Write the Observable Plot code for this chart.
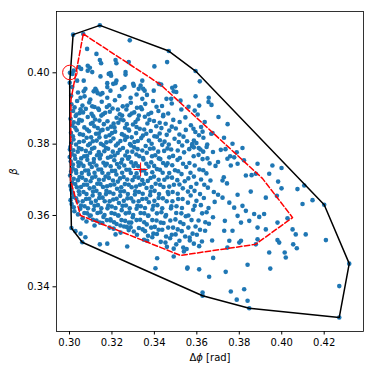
<!DOCTYPE html>
<html>
<head>
<meta charset="utf-8">
<script src="https://cdn.jsdelivr.net/npm/d3@7"></script>
<script src="https://cdn.jsdelivr.net/npm/@observablehq/plot@0.6"></script>
<style>
  html, body { margin: 0; padding: 0; background: white; }
  #chart { width: 374px; height: 374px; }
</style>
</head>
<body>
<div id="chart"></div>
<script>
// Samples (Δϕ [rad], β)
const samplesOuter = [
// top region
[0.3017,0.4107],[0.3143,0.4133],[0.3065,0.4109],[0.3284,0.4091],[0.3083,0.4067],[0.3127,0.4053],[0.3143,0.4036],[0.3149,0.4027],[0.3217,0.4036],[0.3221,0.4027],[0.3279,0.4030],[0.3086,0.4020],[0.3096,0.4014],[0.3044,0.4016],[0.3055,0.4011],[0.3020,0.4006],[0.3014,0.3997],[0.3107,0.4002],[0.3185,0.3997],[0.3196,0.3992],[0.3264,0.3995],[0.3067,0.3978],[0.3178,0.3971],[0.3206,0.3969],[0.3217,0.3971],[0.3300,0.3969],[0.3248,0.3955],[0.3259,0.3960],[0.3075,0.3955],[0.3067,0.3948],[0.3114,0.3948],[0.3127,0.3950],[0.3133,0.3943],[0.3146,0.3939],[0.3155,0.3943],[0.3193,0.3950],[0.3326,0.3955],[0.3316,0.3939],[0.3052,0.3930],[0.3071,0.3934],[0.3178,0.3930],[0.3288,0.3930],
[0.3086,0.4006],[0.3146,0.3990],[0.3193,0.3999],[0.3221,0.3978],[0.3264,0.4002],[0.3303,0.3964],[0.3178,0.3960],[0.3122,0.3955],[0.3343,0.3978],[0.3397,0.3950],[0.3484,0.3958],[0.3523,0.3922],[0.3036,0.3978],[0.3013,0.3960],[0.3008,0.3936],[0.3040,0.3945],[0.3098,0.3925],[0.3235,0.3935],[0.3365,0.3938],
[0.3002,0.4000],[0.3002,0.3785],[0.3001,0.3972],
[0.3468,0.4061],[0.3400,0.4018],[0.3460,0.4030],[0.3594,0.4005],[0.3614,0.3976],[0.3335,0.3964],[0.3347,0.3955],[0.3354,0.3950],[0.3421,0.3969],[0.3432,0.3967],[0.3498,0.3962],[0.3491,0.3948],[0.3503,0.3946],[0.3594,0.3934],[0.3656,0.3930],[0.3457,0.3927],[0.3479,0.3927],[0.3343,0.3927],
[0.3611,0.3908],[0.3590,0.3894],[0.3669,0.3910],[0.3584,0.3843],[0.3627,0.3835],[0.3674,0.3831],[0.3586,0.3810],[0.3598,0.3803],[0.3609,0.3789],[0.3578,0.3794],[0.3617,0.3785],[0.3646,0.3792],
// right upper
[0.3768,0.3801],[0.3788,0.3777],[0.3815,0.3789],[0.3713,0.3784],[0.3744,0.3759],[0.3776,0.3763],[0.3760,0.3740],[0.3792,0.3745],[0.3886,0.3745],[0.3878,0.3717],[0.3831,0.3712],[0.3956,0.3740],[0.3941,0.3717],[0.3999,0.3733],[0.3983,0.3695],[0.4106,0.3684],[0.3721,0.3698],[0.3728,0.3818],
[0.3735,0.3786],[0.3757,0.3766],[0.3822,0.3755],[0.3727,0.3707],[0.3858,0.3713],[0.3742,0.3690],
// right lower
[0.3792,0.3658],[0.3854,0.3667],[0.3925,0.3650],[0.3977,0.3655],[0.3999,0.3676],[0.4074,0.3674],[0.4098,0.3632],[0.4145,0.3643],[0.4200,0.3630],[0.3870,0.3604],[0.3894,0.3596],[0.3917,0.3604],[0.3815,0.3627],[0.3831,0.3613],[0.3776,0.3622],[0.3980,0.3580],[0.4027,0.3592],[0.4051,0.3561],[0.4066,0.3547],[0.4113,0.3547],[0.3980,0.3531],[0.3988,0.3524],[0.3941,0.3496],[0.4014,0.3496],[0.4019,0.3482],[0.4054,0.3519],[0.4071,0.3508],[0.4208,0.3531],[0.4318,0.3465],[0.4271,0.3402],[0.4271,0.3314],[0.3946,0.3451],[0.3839,0.3462],[0.3736,0.3442],[0.3760,0.3387],[0.3823,0.3393],[0.3788,0.3364],[0.3839,0.3361],[0.3847,0.3340],[0.3878,0.3519],[0.3886,0.3533],[0.3800,0.3524],[0.3808,0.3529],[0.3753,0.3529],[0.3744,0.3510],[0.3729,0.3557],[0.3768,0.3557],[0.3732,0.3585],[0.3925,0.3561],[0.3886,0.3566],[0.3847,0.3585],[0.3808,0.3580],[0.3792,0.3599],[0.3753,0.3636],[0.3721,0.3650],
// lower left
[0.3052,0.3549],[0.3075,0.3539],[0.3143,0.3519],[0.3178,0.3521],[0.3272,0.3513],[0.3028,0.3556],[0.3009,0.3565],[0.3060,0.3525],[0.3193,0.3586],[0.3240,0.3572],[0.3288,0.3567],[0.3303,0.3555],[0.3217,0.3547],[0.3366,0.3529],[0.3413,0.3480],[0.3405,0.3452],[0.3555,0.3451],[0.3452,0.3524],[0.3491,0.3507],[0.3536,0.3510],[0.3539,0.3499],[0.3586,0.3521],[0.3567,0.3530],[0.3672,0.3530],[0.3491,0.3485],[0.3677,0.3481],[0.3658,0.3428],[0.3627,0.3384],[0.3627,0.3375],[0.3611,0.3449],[0.3556,0.3454]
];

const samplesCore = [
[0.3009,0.3912],[0.3036,0.3921],[0.3061,0.3908],[0.3093,0.3917],[0.3118,0.3904],[0.3152,0.3919],[0.3187,0.3909],[0.3214,0.3923],[0.3251,0.3906],[0.3289,0.3916],[0.3318,0.3902],[0.3357,0.3913],[0.3394,0.3921],[0.3436,0.3907],[0.3482,0.3914],[0.3561,0.3905],[0.3655,0.3918],
[0.3017,0.3893],[0.3048,0.3887],[0.3077,0.3899],[0.3104,0.3885],[0.3139,0.3896],[0.3168,0.3888],[0.3203,0.3900],[0.3237,0.3884],[0.3268,0.3897],[0.3305,0.3889],[0.3341,0.3898],[0.3372,0.3884],[0.3419,0.3893],[0.3465,0.3886],[0.3527,0.3897],[0.3604,0.3883],
[0.3005,0.3871],[0.3029,0.3879],[0.3058,0.3866],[0.3086,0.3876],[0.3121,0.3869],[0.3150,0.3880],[0.3179,0.3864],[0.3222,0.3874],[0.3254,0.3867],[0.3283,0.3881],[0.3322,0.3870],[0.3355,0.3877],[0.3398,0.3865],[0.3441,0.3878],[0.3489,0.3868],[0.3546,0.3875],[0.3637,0.3862],[0.3702,0.3876],
[0.3013,0.3852],[0.3041,0.3859],[0.3070,0.3847],[0.3101,0.3857],[0.3133,0.3845],[0.3162,0.3856],[0.3196,0.3849],[0.3230,0.3860],[0.3262,0.3846],[0.3299,0.3855],[0.3331,0.3843],[0.3367,0.3858],[0.3409,0.3850],[0.3453,0.3857],[0.3501,0.3844],[0.3572,0.3853],[0.3620,0.3848],[0.3745,0.3856],
[0.3007,0.3832],[0.3034,0.3839],[0.3064,0.3826],[0.3092,0.3836],[0.3125,0.3829],[0.3156,0.3840],[0.3188,0.3825],[0.3215,0.3835],[0.3247,0.3828],[0.3278,0.3841],[0.3314,0.3831],[0.3346,0.3824],[0.3383,0.3837],[0.3425,0.3830],[0.3470,0.3838],[0.3518,0.3827],[0.3593,0.3834],[0.3668,0.3829],
[0.3019,0.3813],[0.3046,0.3806],[0.3081,0.3818],[0.3110,0.3808],[0.3141,0.3819],[0.3174,0.3805],[0.3207,0.3816],[0.3240,0.3809],[0.3271,0.3820],[0.3306,0.3806],[0.3338,0.3817],[0.3374,0.3810],[0.3412,0.3821],[0.3448,0.3807],[0.3495,0.3815],[0.3554,0.3808],[0.3631,0.3818],
[0.3004,0.3792],[0.3031,0.3799],[0.3057,0.3786],[0.3088,0.3797],[0.3117,0.3790],[0.3148,0.3801],[0.3182,0.3787],[0.3219,0.3796],[0.3252,0.3789],[0.3285,0.3800],[0.3321,0.3786],[0.3359,0.3795],[0.3396,0.3788],[0.3437,0.3798],[0.3479,0.3785],[0.3531,0.3796],[0.3586,0.3791],[0.3649,0.3799],
[0.3011,0.3772],[0.3039,0.3779],[0.3069,0.3766],[0.3097,0.3776],[0.3130,0.3769],[0.3164,0.3780],[0.3195,0.3765],[0.3227,0.3775],[0.3263,0.3768],[0.3296,0.3779],[0.3329,0.3766],[0.3364,0.3776],[0.3404,0.3769],[0.3446,0.3781],[0.3488,0.3767],[0.3540,0.3777],[0.3608,0.3770],[0.3676,0.3778],
[0.3006,0.3752],[0.3027,0.3759],[0.3053,0.3746],[0.3084,0.3756],[0.3114,0.3749],[0.3143,0.3760],[0.3176,0.3745],[0.3211,0.3755],[0.3243,0.3748],[0.3276,0.3759],[0.3312,0.3746],[0.3348,0.3757],[0.3385,0.3749],[0.3421,0.3760],[0.3462,0.3746],[0.3509,0.3756],[0.3565,0.3747],[0.3627,0.3758],[0.3700,0.3750],
[0.3015,0.3732],[0.3043,0.3739],[0.3074,0.3726],[0.3105,0.3736],[0.3136,0.3729],[0.3169,0.3740],[0.3200,0.3725],[0.3234,0.3735],[0.3268,0.3728],[0.3302,0.3739],[0.3338,0.3726],[0.3373,0.3737],[0.3412,0.3730],[0.3455,0.3740],[0.3497,0.3727],[0.3550,0.3736],[0.3612,0.3729],[0.3688,0.3739],
[0.3003,0.3712],[0.3032,0.3719],[0.3060,0.3706],[0.3091,0.3716],[0.3122,0.3709],[0.3155,0.3720],[0.3186,0.3705],[0.3221,0.3715],[0.3255,0.3708],[0.3289,0.3719],[0.3325,0.3706],[0.3361,0.3717],[0.3398,0.3709],[0.3439,0.3720],[0.3483,0.3706],[0.3528,0.3716],[0.3586,0.3709],[0.3645,0.3718],
[0.3012,0.3692],[0.3040,0.3699],[0.3068,0.3686],[0.3099,0.3696],[0.3131,0.3689],[0.3161,0.3700],[0.3193,0.3685],[0.3228,0.3695],[0.3261,0.3688],[0.3297,0.3699],[0.3332,0.3686],[0.3369,0.3697],[0.3406,0.3689],[0.3447,0.3700],[0.3492,0.3686],[0.3543,0.3696],[0.3598,0.3689],[0.3664,0.3698],
[0.3008,0.3672],[0.3035,0.3679],[0.3066,0.3666],[0.3095,0.3676],[0.3127,0.3669],[0.3158,0.3680],[0.3190,0.3665],[0.3224,0.3675],[0.3257,0.3668],[0.3293,0.3679],[0.3327,0.3666],[0.3363,0.3677],[0.3401,0.3669],[0.3443,0.3680],[0.3486,0.3666],[0.3534,0.3676],[0.3589,0.3669],[0.3652,0.3678],
[0.3018,0.3652],[0.3047,0.3659],[0.3078,0.3646],[0.3109,0.3656],[0.3140,0.3649],[0.3172,0.3660],[0.3206,0.3645],[0.3239,0.3655],[0.3273,0.3648],[0.3308,0.3659],[0.3343,0.3646],[0.3380,0.3657],[0.3420,0.3649],[0.3466,0.3660],[0.3512,0.3646],[0.3571,0.3656],[0.3633,0.3649],[0.3700,0.3658],
[0.3010,0.3632],[0.3038,0.3639],[0.3071,0.3626],[0.3102,0.3636],[0.3134,0.3629],[0.3166,0.3640],[0.3199,0.3625],[0.3233,0.3635],[0.3266,0.3628],[0.3301,0.3639],[0.3336,0.3626],[0.3374,0.3637],[0.3414,0.3629],[0.3458,0.3640],[0.3504,0.3626],[0.3558,0.3636],[0.3619,0.3629],[0.3684,0.3638],
[0.3023,0.3612],[0.3051,0.3619],[0.3083,0.3606],[0.3114,0.3616],[0.3146,0.3609],[0.3179,0.3620],[0.3213,0.3605],[0.3246,0.3615],[0.3281,0.3608],[0.3316,0.3619],[0.3352,0.3606],[0.3391,0.3617],[0.3433,0.3609],[0.3478,0.3620],[0.3527,0.3606],[0.3583,0.3616],[0.3646,0.3609],
[0.3062,0.3592],[0.3095,0.3599],[0.3127,0.3586],[0.3160,0.3596],[0.3193,0.3589],[0.3229,0.3600],[0.3262,0.3585],[0.3298,0.3595],[0.3333,0.3588],[0.3370,0.3599],[0.3410,0.3586],[0.3452,0.3597],[0.3499,0.3589],[0.3548,0.3598],[0.3608,0.3586],[0.3676,0.3595],
[0.3118,0.3572],[0.3155,0.3579],[0.3189,0.3566],[0.3222,0.3576],[0.3257,0.3569],[0.3291,0.3580],[0.3327,0.3565],[0.3364,0.3575],[0.3402,0.3568],[0.3443,0.3579],[0.3488,0.3566],[0.3537,0.3576],[0.3594,0.3569],[0.3657,0.3577],
[0.3241,0.3552],[0.3279,0.3559],[0.3318,0.3546],[0.3356,0.3556],[0.3395,0.3549],[0.3437,0.3560],[0.3482,0.3546],[0.3529,0.3556],[0.3580,0.3549],[0.3639,0.3557],
[0.3351,0.3532],[0.3390,0.3539],[0.3430,0.3526],[0.3474,0.3536],[0.3518,0.3529],[0.3566,0.3538],[0.3624,0.3527],
[0.3459,0.3512],[0.3503,0.3519],[0.3552,0.3506],[0.3611,0.3514]
];

const samplesDense = [
[0.3024,0.3903],[0.3052,0.3898],[0.3107,0.3906],[0.3135,0.3900],[0.3176,0.3904],[0.3228,0.3897],[0.3272,0.3908],[0.3336,0.3903],[0.3410,0.3905],
[0.3033,0.3883],[0.3064,0.3889],[0.3112,0.3878],[0.3158,0.3884],[0.3190,0.3891],[0.3248,0.3880],[0.3293,0.3886],[0.3327,0.3880],[0.3385,0.3888],[0.3442,0.3882],
[0.3020,0.3861],[0.3046,0.3868],[0.3109,0.3860],[0.3141,0.3866],[0.3208,0.3858],[0.3240,0.3869],[0.3270,0.3856],[0.3311,0.3862],[0.3377,0.3868],[0.3425,0.3860],[0.3519,0.3862],
[0.3027,0.3846],[0.3083,0.3841],[0.3117,0.3850],[0.3148,0.3838],[0.3180,0.3843],[0.3212,0.3847],[0.3281,0.3838],[0.3316,0.3848],[0.3352,0.3841],[0.3433,0.3845],[0.3482,0.3849],[0.3548,0.3840],
[0.3016,0.3822],[0.3049,0.3828],[0.3102,0.3819],[0.3138,0.3830],[0.3171,0.3821],[0.3200,0.3831],[0.3258,0.3824],[0.3293,0.3819],[0.3362,0.3829],[0.3400,0.3822],[0.3458,0.3826],[0.3537,0.3821],[0.3610,0.3825],
[0.3008,0.3803],[0.3067,0.3808],[0.3096,0.3801],[0.3128,0.3810],[0.3160,0.3797],[0.3193,0.3808],[0.3228,0.3802],[0.3262,0.3812],[0.3290,0.3796],[0.3322,0.3809],[0.3387,0.3801],[0.3426,0.3811],[0.3468,0.3799],[0.3515,0.3806],[0.3578,0.3800],
[0.3018,0.3783],[0.3044,0.3789],[0.3077,0.3781],[0.3106,0.3787],[0.3138,0.3778],[0.3172,0.3789],[0.3204,0.3779],[0.3237,0.3784],[0.3272,0.3779],[0.3305,0.3791],[0.3343,0.3782],[0.3379,0.3787],[0.3418,0.3779],[0.3462,0.3788],[0.3510,0.3782],[0.3564,0.3786],[0.3630,0.3779],
[0.3001,0.3764],[0.3024,0.3768],[0.3055,0.3760],[0.3083,0.3767],[0.3115,0.3758],[0.3148,0.3770],[0.3181,0.3762],[0.3213,0.3768],[0.3248,0.3757],[0.3281,0.3764],[0.3315,0.3771],[0.3347,0.3761],[0.3389,0.3766],[0.3428,0.3758],[0.3470,0.3763],[0.3520,0.3761],[0.3585,0.3766],[0.3650,0.3760],
[0.3016,0.3743],[0.3041,0.3749],[0.3066,0.3739],[0.3096,0.3745],[0.3127,0.3740],[0.3160,0.3748],[0.3194,0.3738],[0.3224,0.3744],[0.3258,0.3740],[0.3291,0.3749],[0.3324,0.3738],[0.3362,0.3745],[0.3399,0.3739],[0.3441,0.3747],[0.3484,0.3741],[0.3535,0.3745],[0.3590,0.3740],[0.3660,0.3746],
[0.3008,0.3723],[0.3030,0.3727],[0.3058,0.3719],[0.3088,0.3726],[0.3118,0.3720],[0.3149,0.3729],[0.3183,0.3717],[0.3215,0.3725],[0.3248,0.3720],[0.3282,0.3728],[0.3316,0.3718],[0.3352,0.3726],[0.3390,0.3721],[0.3426,0.3728],[0.3470,0.3719],[0.3512,0.3724],[0.3570,0.3720],[0.3630,0.3727],
[0.3020,0.3703],[0.3047,0.3708],[0.3077,0.3699],[0.3107,0.3706],[0.3139,0.3700],[0.3170,0.3709],[0.3205,0.3698],[0.3238,0.3704],[0.3272,0.3701],[0.3307,0.3708],[0.3343,0.3699],[0.3382,0.3705],[0.3420,0.3700],[0.3462,0.3707],[0.3508,0.3699],[0.3560,0.3704],[0.3620,0.3701],
[0.3004,0.3683],[0.3027,0.3688],[0.3054,0.3680],[0.3083,0.3686],[0.3115,0.3679],[0.3146,0.3688],[0.3177,0.3682],[0.3211,0.3687],[0.3244,0.3679],[0.3279,0.3686],[0.3314,0.3681],[0.3350,0.3689],[0.3387,0.3680],[0.3427,0.3686],[0.3470,0.3681],[0.3518,0.3687],[0.3572,0.3680],[0.3635,0.3686],
[0.3016,0.3663],[0.3044,0.3668],[0.3080,0.3660],[0.3111,0.3667],[0.3142,0.3660],[0.3174,0.3669],[0.3207,0.3661],[0.3240,0.3667],[0.3275,0.3660],[0.3310,0.3668],[0.3345,0.3661],[0.3382,0.3667],[0.3422,0.3660],[0.3463,0.3666],[0.3510,0.3661],[0.3558,0.3667],[0.3615,0.3660],[0.3680,0.3666],
[0.3005,0.3643],[0.3031,0.3648],[0.3062,0.3640],[0.3093,0.3647],[0.3124,0.3641],[0.3156,0.3650],[0.3189,0.3640],[0.3222,0.3647],[0.3256,0.3641],[0.3290,0.3648],[0.3326,0.3640],[0.3362,0.3647],[0.3400,0.3641],[0.3440,0.3648],[0.3485,0.3640],[0.3533,0.3646],[0.3598,0.3641],
[0.3020,0.3623],[0.3054,0.3628],[0.3087,0.3620],[0.3118,0.3627],[0.3150,0.3620],[0.3183,0.3628],[0.3217,0.3621],[0.3250,0.3627],[0.3284,0.3620],[0.3320,0.3627],[0.3356,0.3621],[0.3395,0.3627],[0.3437,0.3620],[0.3480,0.3626],[0.3530,0.3621],[0.3590,0.3627],[0.3655,0.3621],
[0.3040,0.3603],[0.3070,0.3607],[0.3100,0.3600],[0.3132,0.3607],[0.3165,0.3601],[0.3198,0.3607],[0.3231,0.3600],[0.3265,0.3606],[0.3300,0.3601],[0.3335,0.3607],[0.3372,0.3600],[0.3412,0.3606],[0.3455,0.3601],[0.3503,0.3607],[0.3560,0.3600],[0.3625,0.3606],
[0.3080,0.3583],[0.3110,0.3588],[0.3143,0.3580],[0.3176,0.3587],[0.3210,0.3581],[0.3245,0.3587],[0.3280,0.3580],[0.3316,0.3587],[0.3352,0.3581],[0.3390,0.3587],[0.3430,0.3580],[0.3475,0.3586],[0.3522,0.3581],[0.3575,0.3587],[0.3640,0.3581],
[0.3208,0.3563],[0.3270,0.3568],[0.3345,0.3561],[0.3385,0.3566],[0.3420,0.3560],[0.3465,0.3566],[0.3510,0.3561],[0.3560,0.3566],[0.3615,0.3560],
[0.3370,0.3543],[0.3412,0.3548],[0.3455,0.3541],[0.3500,0.3547],[0.3545,0.3541],[0.3600,0.3546]
];

// Convex hull (black)
const hullDphi = [0.3017,0.3143,0.3468,0.3594,0.4200,0.4318,0.4271,0.3847,0.3627,0.3060,0.3009,0.3002,0.3001,0.3017];
const hullBeta = [0.4107,0.4133,0.4061,0.4005,0.3630,0.3465,0.3314,0.3340,0.3375,0.3525,0.3565,0.3785,0.3972,0.4107];

// Dashed contour (red)
const contDphi = [0.3065,0.3429,0.3909,0.4051,0.3876,0.3523,0.3052,0.3005,0.3007,0.3065];
const contBeta = [0.4109,0.3967,0.3704,0.3594,0.3519,0.3488,0.3600,0.3698,0.3925,0.4109];

// Highlighted point (circle) and centre (+)
const circleDphi = [0.3002], circleBeta = [0.4001];
const centerDphi = [0.3335], centerBeta = [0.3729];

const xTicks = [0.30, 0.32, 0.34, 0.36, 0.38, 0.40, 0.42];
const yTicks = [0.34, 0.36, 0.38, 0.40];

const samples = samplesOuter.concat(samplesCore, samplesDense);
const hull = hullDphi.map((d, i) => ({x: d, y: hullBeta[i]}));
const cont = contDphi.map((d, i) => ({x: d, y: contBeta[i]}));

const plusSymbol = {
  draw(ctx, size) {
    const r = Math.sqrt(size / Math.PI);
    ctx.moveTo(-r, 0); ctx.lineTo(r, 0);
    ctx.moveTo(0, -r); ctx.lineTo(0, r);
  }
};

const chart = Plot.plot({
  width: 374,
  height: 374,
  marginLeft: 56,
  marginRight: 11,
  marginTop: 11,
  marginBottom: 43,
  style: {background: "white", fontFamily: "DejaVu Sans", fontSize: "10px", color: "black"},
  x: {domain: [0.29388, 0.43852], ticks: xTicks, tickFormat: d3.format(".2f"), tickSize: 3.5, tickPadding: 3.5,
      label: "Δϕ [rad]", labelAnchor: "center", labelOffset: 29, labelArrow: "none"},
  y: {domain: [0.32747, 0.41719], ticks: yTicks, tickFormat: d3.format(".2f"), tickSize: 3.5, tickPadding: 3.5,
      label: "β", labelAnchor: "center", labelOffset: 47, labelArrow: "none"},
  marks: [
    Plot.dot(samples, {x: d => d[0], y: d => d[1], r: 2.3, fill: "#1f77b4", stroke: "none"}),
    Plot.line(hull, {x: "x", y: "y", stroke: "black", strokeWidth: 1.5, curve: "linear"}),
    Plot.line(cont, {x: "x", y: "y", stroke: "red", strokeWidth: 1.5, strokeDasharray: "5.5,2.4"}),
    Plot.dot(circleDphi, {x: circleDphi, y: circleBeta, r: 7.3, stroke: "red", fill: "none", strokeWidth: 1}),
    Plot.dot(centerDphi, {x: centerDphi, y: centerBeta, r: 7, symbol: plusSymbol, stroke: "red", fill: "none", strokeWidth: 1}),
    Plot.frame({stroke: "black", strokeWidth: 0.8})
  ]
});

document.getElementById("chart").appendChild(chart);

// italic math glyphs in axis labels
const xl = chart.querySelector('g[aria-label="x-axis label"] text');
if (xl) { xl.innerHTML = '<tspan>Δ</tspan><tspan font-style="italic">ϕ</tspan><tspan> [rad]</tspan>'; }
const yl = chart.querySelector('g[aria-label="y-axis label"] text');
if (yl) { yl.setAttribute("font-style", "italic"); }
</script>
</body>
</html>
